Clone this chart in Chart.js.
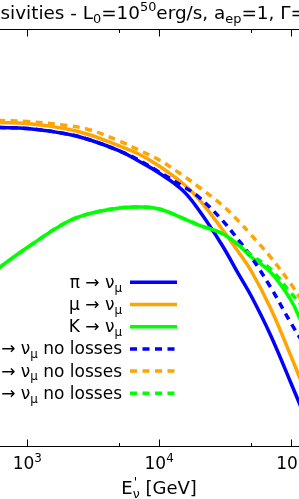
<!DOCTYPE html>
<html>
<head>
<meta charset="utf-8">
<script src="https://cdn.jsdelivr.net/npm/chart.js@4.4.1/dist/chart.umd.min.js"></script>
<style>
  html, body { margin: 0; padding: 0; background: #fff; overflow: hidden; }
  #wrap { position: relative; width: 299px; height: 499px; }
  canvas { display: block; }
</style>
</head>
<body>
<div id="wrap"><canvas id="chart" width="299" height="499"></canvas></div>
<script>
// neutrino energy E'_nu [GeV]
const energies = [600, 1000, 2000, 3000, 5000, 7000, 10000, 15000, 20000, 30000, 40000, 50000, 70000, 100000, 120000];

// emissivities (arbitrary units, log scale)
const piNu       = [0.1047, 0.1023, 0.0902, 0.0785, 0.0610, 0.0484, 0.0367, 0.0248, 0.01567, 0.00700, 0.00359, 0.00216, 0.000881, 0.000292, 0.000164];
const muNu       = [0.1175, 0.1148, 0.1012, 0.0881, 0.0684, 0.0569, 0.04315, 0.02917, 0.02018, 0.01012, 0.005957, 0.003846, 0.001641, 0.000543, 0.000299];
const kNu        = [0.004074, 0.006607, 0.01189, 0.01445, 0.01641, 0.01679, 0.01603, 0.01303, 0.01109, 0.00912, 0.00700, 0.00531, 0.003758, 0.00197, 0.001189];
const piNuNoLoss = [0.1047, 0.1023, 0.0902, 0.0785, 0.0610, 0.0496, 0.03758, 0.02723, 0.02113, 0.01245, 0.00785, 0.00531, 0.00266, 0.00116, 0.000785];
const muNuNoLoss = [0.1230, 0.1202, 0.1096, 0.0989, 0.0767, 0.0624, 0.04955, 0.03508, 0.02661, 0.01758, 0.01216, 0.00881, 0.00531, 0.00285, 0.00197];
const kNuNoLoss  = [0.004074, 0.006607, 0.01189, 0.01445, 0.01641, 0.01679, 0.01603, 0.01303, 0.01109, 0.00912, 0.00700, 0.00556, 0.00403, 0.00232, 0.00176];

const seriesLabels = ['π → ν_μ', 'μ → ν_μ', 'K → ν_μ', 'π → ν_μ no losses', 'μ → ν_μ no losses', 'K → ν_μ no losses'];
const majorTicks = [1e3, 1e4, 1e5];
const majorTickExps = ['3', '4', '5'];

const BLUE = '#0000ff', ORANGE = '#ffa500', GREEN = '#00ff00';
const FONT = '"DejaVu Sans", sans-serif';
const DASH = [7, 5.5];

function pts(arr) {
  return energies.map((e, i) => ({ x: e, y: arr[i] }));
}

// turn 'ν_μ' into runs with one-char subscripts
function mathRuns(str) {
  const runs = [];
  let buf = '';
  for (let i = 0; i < str.length; i++) {
    if (str[i] === '_' && i + 1 < str.length) {
      if (buf) runs.push([buf]);
      runs.push([str[i + 1], 'sub']);
      buf = '';
      i++;
    } else {
      buf += str[i];
    }
  }
  if (buf) runs.push([buf]);
  return runs;
}

function drawRuns(ctx, runs, x, y, size, align) {
  const parts = runs.map(r => {
    const kind = r[1] || '';
    const s = kind ? size * 0.7 : size;
    ctx.font = s + 'px ' + FONT;
    let w = ctx.measureText(r[0]).width;
    if (kind === 'subsup') w = Math.max(w, ctx.measureText(r[2]).width);
    return { text: r[0], text2: r[2], kind, s, w };
  });
  const total = parts.reduce((a, p) => a + p.w, 0);
  let cx = align === 'right' ? x - total : align === 'center' ? x - total / 2 : x;
  ctx.textAlign = 'left';
  ctx.textBaseline = 'alphabetic';
  parts.forEach(p => {
    ctx.font = p.s + 'px ' + FONT;
    if (p.kind === 'subsup') {
      ctx.fillText(p.text, cx + 1, y - size * 0.42);
      ctx.fillText(p.text2, cx, y + size * 0.22);
    } else {
      const dy = p.kind === 'sub' ? size * 0.22 : p.kind === 'sup' ? -size * 0.42 : 0;
      ctx.fillText(p.text, cx, y + dy);
    }
    cx += p.w;
  });
}

const decor = {
  id: 'decor',
  afterDraw(chart) {
    const { ctx, chartArea: a, scales: { x } } = chart;
    ctx.save();
    ctx.fillStyle = '#000';
    ctx.strokeStyle = '#000';

    // spines
    ctx.lineWidth = 1.1;
    ctx.beginPath();
    ctx.moveTo(0, a.top); ctx.lineTo(chart.width, a.top);
    ctx.moveTo(0, a.bottom); ctx.lineTo(chart.width, a.bottom);
    ctx.stroke();

    // inward ticks, top and bottom
    ctx.lineWidth = 1;
    x.ticks.forEach(t => {
      const v = t.value;
      const m = v / Math.pow(10, Math.floor(Math.log10(v) + 1e-9));
      if (Math.abs(m - Math.round(m)) > 1e-6) return;
      const px = Math.round(x.getPixelForValue(v)) + 0.5;
      const len = Math.round(m) === 1 ? 7 : 3.5;
      ctx.beginPath();
      ctx.moveTo(px, a.bottom); ctx.lineTo(px, a.bottom - len);
      ctx.moveTo(px, a.top); ctx.lineTo(px, a.top + len);
      ctx.stroke();
    });

    // tick labels
    majorTicks.forEach((v, i) => {
      drawRuns(ctx, [['10'], [majorTickExps[i], 'sup']], x.getPixelForValue(v), 469, 17, 'center');
    });

    // x label
    drawRuns(ctx, [['E'], ["'", 'subsup', 'ν'], [' [GeV]']], x.getPixelForValue(1e4), 494, 18, 'center');

    // title
    const ts = 18.4;
    ctx.font = ts + 'px ' + FONT;
    const off = ctx.measureText('emis').width;
    drawRuns(ctx, [['emissivities - L'], ['0', 'sub'], ['=10'], ['50', 'sup'], ['erg/s, a'], ['ep', 'sub'], ['=1, Γ=']], -off + 0.5, 19, ts, 'left');

    // legend
    chart.data.datasets.forEach((ds, i) => {
      const ly = 282.3 + i * 22.2;
      drawRuns(ctx, mathRuns(ds.label), 122, ly + 5.5, 17, 'right');
      ctx.save();
      ctx.strokeStyle = ds.borderColor;
      ctx.lineWidth = ds.borderWidth;
      ctx.setLineDash(ds.borderDash || []);
      ctx.beginPath();
      ctx.moveTo(130, ly); ctx.lineTo(177, ly);
      ctx.stroke();
      ctx.restore();
    });
    ctx.restore();
  }
};

function series(label, arr, color, dashed, order) {
  return {
    label,
    data: pts(arr),
    borderColor: color,
    borderWidth: 3.5,
    borderDash: dashed ? DASH : [],
    borderCapStyle: 'butt',
    fill: false,
    pointRadius: 0,
    tension: 0.4,
    order
  };
}

new Chart(document.getElementById('chart'), {
  type: 'line',
  data: {
    datasets: [
      series(seriesLabels[0], piNu, BLUE, false, 6),
      series(seriesLabels[1], muNu, ORANGE, false, 5),
      series(seriesLabels[2], kNu, GREEN, false, 4),
      series(seriesLabels[3], piNuNoLoss, BLUE, true, 3),
      series(seriesLabels[4], muNuNoLoss, ORANGE, true, 2),
      series(seriesLabels[5], kNuNoLoss, GREEN, true, 1)
    ]
  },
  options: {
    responsive: false,
    animation: false,
    layout: { padding: { top: 29.5, bottom: 52.5, left: 0, right: 0 } },
    plugins: { legend: { display: false }, tooltip: { enabled: false } },
    scales: {
      x: { type: 'logarithmic', min: 620.8, max: 115200, display: false },
      y: { type: 'logarithmic', min: 6.761e-5, max: 1, display: false }
    }
  },
  plugins: [decor]
});
</script>
</body>
</html>
